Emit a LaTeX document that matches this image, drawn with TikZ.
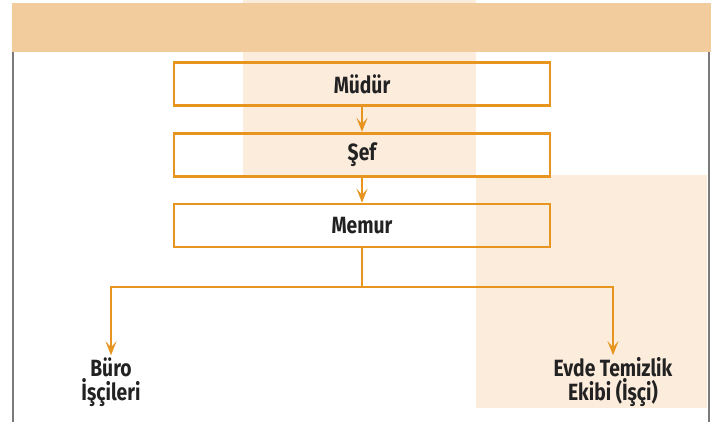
\documentclass[tikz,border=0pt]{standalone}
\usepackage{fontspec}
\setmainfont{Fira Sans}[FakeStretch=0.82]
\usetikzlibrary{arrows.meta, positioning}
\definecolor{orgline}{HTML}{E8951F}
\definecolor{orgband}{HTML}{F2CC9C}
\definecolor{orgpale}{HTML}{FBECDC}
\definecolor{rulegray}{HTML}{7A7A7A}
\definecolor{inkdark}{HTML}{222222}

\begin{document}
\begin{tikzpicture}[x=1pt, y=1pt, node distance=25pt,
    box/.style={rectangle, draw=orgline, line width=2.8pt, text=inkdark, minimum width=376pt, minimum height=43pt, font=\bfseries\fontsize{23.5}{24}\selectfont},
    leaf/.style={align=center, text=inkdark, inner sep=0pt, font=\bfseries\fontsize{23.5}{24}\selectfont},
    arrow/.style={-{Stealth[length=14pt, width=11pt, inset=6pt]}, line width=2.6pt, color=orgline}]

    \useasboundingbox (0,0) rectangle (711,422);

    % background panels and header band
    \fill[orgpale] (243,422) rectangle (476,247);
    \fill[orgpale] (476,247) rectangle (707,14);
    \fill[orgband] (12,419) rectangle (711,370);
    \draw[rulegray, line width=2.8pt] (13,370) -- (13,0);
    \draw[rulegray, line width=2.8pt] (709,370) -- (709,0);

    \node[box] (mudur) at (362,338) {Müdür};
    \node[box, below=of mudur] (sef) {Şef};
    \node[box, below=of sef] (memur) {Memur};

    \coordinate (split) at (362,135);
    \node[leaf] (buro) at (111,40) {Büro\\İşçileri};
    \node[leaf] (ekip) at (613,40) {Evde Temizlik\\Ekibi (İşçi)};

    \draw[arrow] (mudur.south) -- (sef.north);
    \draw[arrow] (sef.south) -- (memur.north);
    \draw[arrow, shorten >=2pt] (memur.south) -- (split) -| (buro.north);
    \draw[arrow, shorten >=2pt] (split) -| (ekip.north);

\end{tikzpicture}
\end{document}
